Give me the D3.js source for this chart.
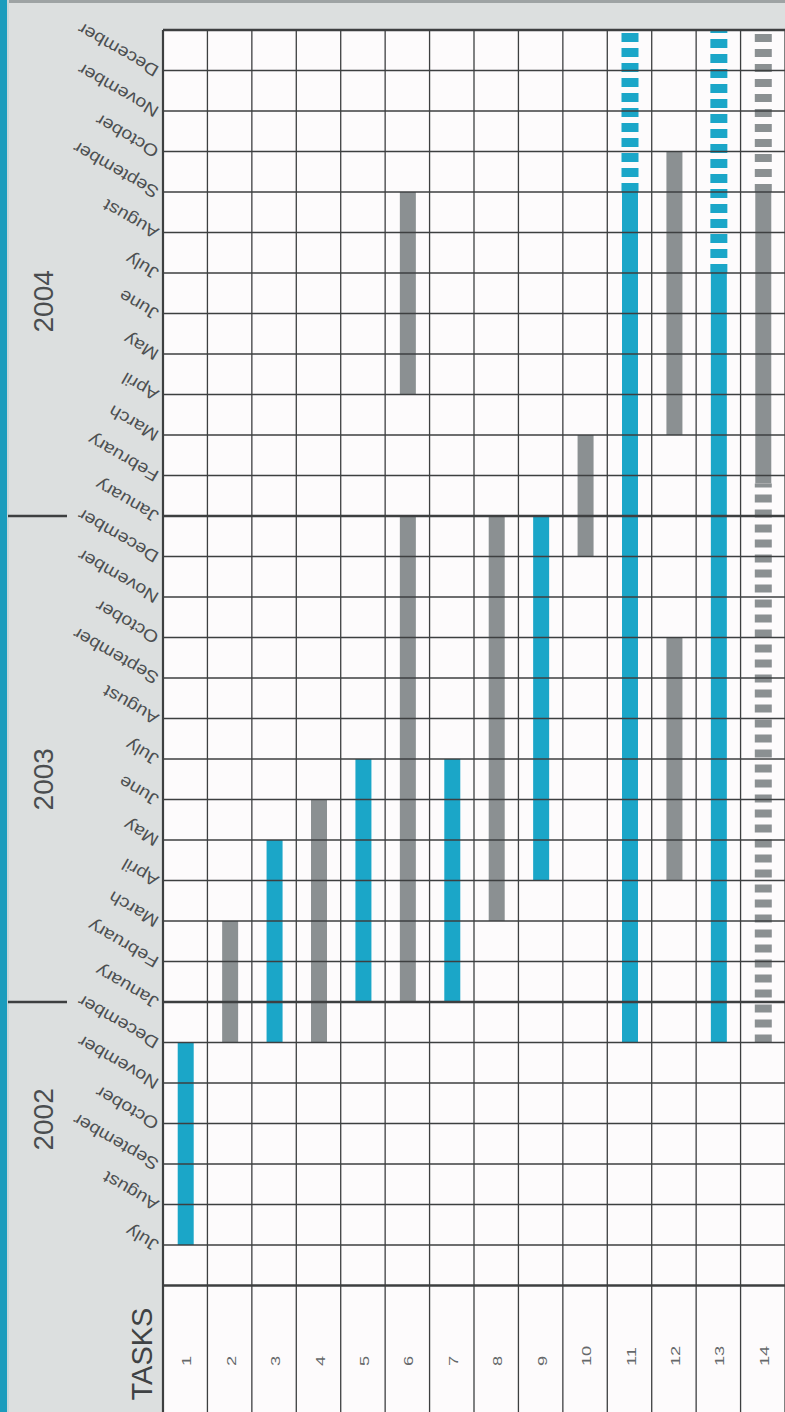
<!DOCTYPE html>
<html><head><meta charset="utf-8">
<script src="https://cdn.jsdelivr.net/npm/d3@7/dist/d3.min.js"></script>
<style>
body{margin:0;background:#dcdfdf;}
svg{display:block;font-family:"Liberation Sans",Arial,Helvetica,sans-serif;}
</style>
</head><body>
<svg id="chart" width="785" height="1412"></svg>
<script>
// ---- data ----
const tasks = ["1","2","3","4","5","6","7","8","9","10","11","12","13","14"];
const months = ["July","August","September","October","November","December",
  "January","February","March","April","May","June","July","August","September","October","November","December",
  "January","February","March","April","May","June","July","August","September","October","November","December"];
const years = ["2002","2003","2004"];
const yearStart = [0, 6, 18];
const yearEnd = [6, 18, 30];
// bar segments (month index: 0 = July 2002, 30 = end of December 2004)
const segTask  = ["1","2","3","4","5","6","6","7","8","9","10","11","11","12","12","13","13","14","14","14"];
const segStart = [0, 5, 5, 5, 6, 6, 21, 6, 8, 9, 17, 5, 26, 9, 20, 5, 24, 5, 18.8, 26];
const segEnd   = [5, 8, 10, 11, 12, 18, 26, 12, 18, 18, 20, 26, 30, 15, 27, 24, 30, 18.8, 26, 30];
const segKind  = ["blue","grey","blue","grey","blue","grey","grey","blue","grey","blue","grey","blue","blue","grey","grey","blue","blue","grey","grey","grey"];
const segDashed= [false,false,false,false,false,false,false,false,false,false,false,false,true,false,false,false,true,true,false,true];

// ---- layout ----
const W = 785, H = 1412;
const gridLeft = 163, gridRight = 785, gridTop = 30;
const svg = d3.select("#chart");
const colors = {blue:"#1ba6c8", grey:"#8b9092"};

const x = d3.scaleBand().domain(tasks).range([gridLeft, gridRight]);
const y = d3.scaleLinear().domain([-1, 30]).range([1285.5, gridTop]);

// backgrounds
svg.append("rect").attr("x",0).attr("y",0).attr("width",W).attr("height",H).attr("fill","#dcdfdf");
svg.append("rect").attr("x",0).attr("y",0).attr("width",W).attr("height",3).attr("fill","#9ea3a4");
svg.append("rect").attr("x",0).attr("y",0).attr("width",7).attr("height",H).attr("fill","#1b9cbd");
svg.append("rect").attr("x",7).attr("y",0).attr("width",2).attr("height",H).attr("fill","#c9d6d9");
svg.append("rect").attr("x",gridLeft).attr("y",gridTop).attr("width",gridRight-gridLeft).attr("height",H-gridTop).attr("fill","#fdfbfc");

// bars
const segs = segTask.map((t,i)=>({task:t, s:segStart[i], e:segEnd[i], kind:segKind[i], dashed:segDashed[i]}));
const barW = 16;
svg.append("g").selectAll("line").data(segs).join("line")
  .attr("x1", d => x(d.task) + x.bandwidth()/2 + 0.5)
  .attr("x2", d => x(d.task) + x.bandwidth()/2 + 0.5)
  .attr("y1", d => y(d.s))
  .attr("y2", d => y(d.e))
  .attr("stroke", d => colors[d.kind])
  .attr("stroke-width", d => d.dashed ? 17 : barW)
  .attr("stroke-dasharray", d => d.dashed ? (d.kind==="grey" ? "8 7" : "9 6") : null);

// horizontal grid lines
const hLines = d3.range(-1, 31);
const thick = new Set([-1, 6, 18, 30]);
svg.append("g").selectAll("line").data(hLines).join("line")
  .attr("x1", gridLeft).attr("x2", gridRight)
  .attr("y1", d => y(d)).attr("y2", d => y(d))
  .attr("stroke", "#3d3f40")
  .attr("stroke-width", d => thick.has(d) ? 2.4 : 1.3);

// vertical grid lines
const vEdges = tasks.map(t => x(t)).concat([gridRight]);
svg.append("g").selectAll("line").data(vEdges).join("line")
  .attr("x1", d => d).attr("x2", d => d)
  .attr("y1", gridTop).attr("y2", H)
  .attr("stroke", "#3d3f40")
  .attr("stroke-width", (d,i) => i===0 ? 2.2 : 1.3);

// year separator stubs in left panel
svg.append("g").selectAll("line").data([6,18]).join("line")
  .attr("x1", 8).attr("x2", 67)
  .attr("y1", d => y(d)).attr("y2", d => y(d))
  .attr("stroke", "#3d3f40").attr("stroke-width", 2.4);

// month labels (upside down, slanted)
svg.append("g").selectAll("text").data(months).join("text")
  .attr("transform", (d,i) => `translate(157,${y(i)+2}) rotate(-150) scale(1.15,1)`)
  .attr("dominant-baseline","central")
  .attr("font-size", 17)
  .attr("fill", "#4c4f51")
  .text(d => d);

// year labels
const yearCenter = [3.1, 11.5, 23.3];
svg.append("g").selectAll("text").data(years).join("text")
  .attr("transform", (d,i) => `translate(43,${y(yearCenter[i])}) rotate(-90)`)
  .attr("text-anchor","middle")
  .attr("dominant-baseline","central")
  .attr("font-size", 28)
  .attr("fill", "#4a4d4f")
  .text(d => d);

// TASKS header
svg.append("text")
  .attr("transform", `translate(142,1354) rotate(-90)`)
  .attr("text-anchor","middle")
  .attr("dominant-baseline","central")
  .attr("font-size", 29)
  .attr("fill", "#3f4244")
  .text("TASKS");

// task numbers
svg.append("g").selectAll("text").data(tasks).join("text")
  .attr("transform", d => `translate(${x(d)+x.bandwidth()/2+1},1366) rotate(-90) scale(1.35,1)`)
  .attr("text-anchor","start")
  .attr("dominant-baseline","central")
  .attr("font-size", 13.5)
  .attr("fill", "#65686a")
  .text(d => d);
</script>
</body></html>
